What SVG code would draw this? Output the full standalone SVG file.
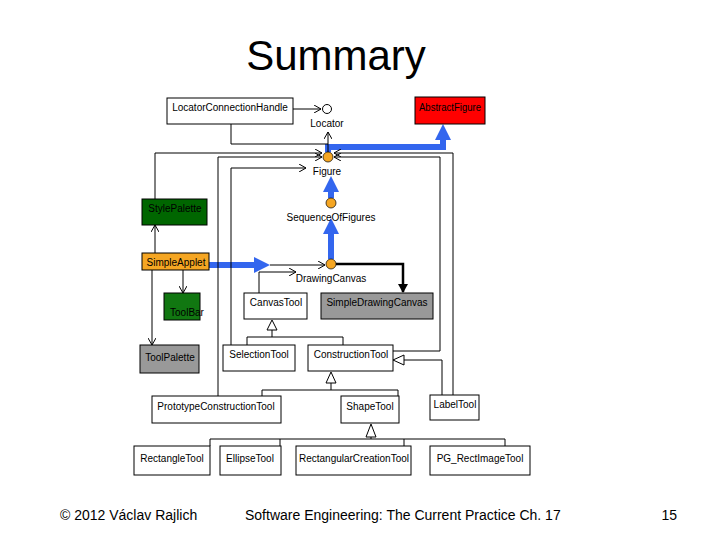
<svg xmlns="http://www.w3.org/2000/svg" width="720" height="540" viewBox="0 0 720 540">
<style>
text{font-family:"Liberation Sans",Arial,sans-serif;font-size:10px;fill:#000}
text.t{font-size:42px}
text.f{font-size:14px}
.b{stroke:#000;stroke-width:1}
.l{fill:none;stroke:#000;stroke-width:1}
.bl{fill:none;stroke:#3366ee;stroke-width:6}
.tri{fill:#fff;stroke:#000;stroke-width:1}
.c{fill:#f5a623;stroke:#000;stroke-width:0.7}
</style>
<defs>
<marker id="o" markerWidth="8" markerHeight="8" refX="7" refY="4" orient="auto" markerUnits="userSpaceOnUse"><path d="M0,0L7,4L0,8" fill="none" stroke="#000"/></marker>
<marker id="k" markerWidth="10" markerHeight="10" refX="8" refY="5" orient="auto" markerUnits="userSpaceOnUse"><path d="M0,0L9,5L0,10z" fill="#000"/></marker>
<marker id="bb" markerWidth="16" markerHeight="16" refX="8" refY="8" orient="auto" markerUnits="userSpaceOnUse"><path d="M0,0L16,8L0,16z" fill="#3366ee"/></marker>
</defs>
<rect width="720" height="540" fill="#fff"/>
<text class="t" x="336" y="70" text-anchor="middle">Summary</text>
<g id="connectors">
<path class="bl" d="M328,152V147H443V132" marker-end="url(#bb)"/>
<path class="bl" d="M331,198V184" marker-end="url(#bb)"/>
<path class="bl" d="M331,259V226" marker-end="url(#bb)"/>
<path class="bl" d="M209,265H262" marker-end="url(#bb)"/>
<path class="l" d="M293,109H321" marker-end="url(#o)"/>
<path class="l" d="M231,124V144H328V152"/>
<path class="l" d="M328,144V132" marker-end="url(#o)"/>
<path class="l" d="M155,199V153H322" marker-end="url(#o)"/>
<path class="l" d="M218,396V157H322" marker-end="url(#o)"/>
<path class="l" d="M393,351H440V157H334" marker-end="url(#o)"/>
<path class="l" d="M453,395V153H334" marker-end="url(#o)"/>
<path class="l" d="M231,345V168H306" marker-end="url(#o)"/>
<path class="l" d="M270,265H325" marker-end="url(#o)"/>
<path class="l" d="M259,293V272H296" marker-end="url(#o)"/>
<path d="M336,264H403V292" fill="none" stroke="#000" stroke-width="2.5" marker-end="url(#k)"/>
<path class="l" d="M155,253V225" marker-end="url(#o)"/>
<path class="l" d="M152,270V345" marker-end="url(#o)"/>
<path class="l" d="M183,270V293" marker-end="url(#o)"/>
<path class="l" d="M247,345V337H343V345M272,337V330"/>
<path class="tri" d="M272,320L267,330H277z"/>
<path class="l" d="M262,396V390H398V396M331,390V383"/>
<path class="tri" d="M331,372L326,383H336z"/>
<path class="l" d="M442,395V360H404"/>
<path class="tri" d="M393,360L404,355V365z"/>
<path class="l" d="M210,446V439H505V446M280,439V446M404,439V446"/>
<path class="tri" d="M371,424L366,437H376z"/>
<path class="l" d="M371,437V439"/>
</g>
<circle cx="327" cy="109" r="4.5" fill="#fff" stroke="#000"/>
<text x="327" y="127" text-anchor="middle">Locator</text>
<circle class="c" cx="328" cy="157" r="5"/>
<text x="327" y="175" text-anchor="middle">Figure</text>
<circle class="c" cx="331" cy="203" r="5"/>
<text x="331" y="221" text-anchor="middle">SequenceOfFigures</text>
<circle class="c" cx="331" cy="264" r="5"/>
<text x="331" y="282" text-anchor="middle">DrawingCanvas</text>
<g id="LocatorConnectionHandle"><rect class="b" x="167" y="98" width="126" height="26" fill="#fff"/><text x="230" y="111" text-anchor="middle">LocatorConnectionHandle</text></g>
<g id="AbstractFigure"><rect class="b" x="415" y="97" width="70" height="27" fill="#ff0000"/><text x="450" y="111" text-anchor="middle" fill="#800000" textLength="62" lengthAdjust="spacingAndGlyphs">AbstractFigure</text></g>
<g id="StylePalette"><rect class="b" x="142" y="199" width="65" height="26" fill="#006600"/><text x="175" y="212" text-anchor="middle">StylePalette</text></g>
<g id="SimpleApplet"><rect class="b" x="142" y="253" width="67" height="17" fill="#f5a623"/><text x="176" y="266" text-anchor="middle">SimpleApplet</text></g>
<g id="ToolBar"><rect class="b" x="164" y="293" width="36" height="27" fill="#117711"/><text x="187" y="316" text-anchor="middle">ToolBar</text></g>
<g id="ToolPalette"><rect class="b" x="140" y="345" width="59" height="28" fill="#999"/><text x="170" y="361" text-anchor="middle">ToolPalette</text></g>
<g id="CanvasTool"><rect class="b" x="244" y="293" width="63" height="26" fill="#fff"/><text x="276" y="306" text-anchor="middle">CanvasTool</text></g>
<g id="SimpleDrawingCanvas"><rect class="b" x="321" y="293" width="112" height="26" fill="#999"/><text x="377" y="306" text-anchor="middle">SimpleDrawingCanvas</text></g>
<g id="SelectionTool"><rect class="b" x="223" y="345" width="72" height="26" fill="#fff"/><text x="259" y="358" text-anchor="middle">SelectionTool</text></g>
<g id="ConstructionTool"><rect class="b" x="308" y="345" width="85" height="26" fill="#fff"/><text x="351" y="358" text-anchor="middle">ConstructionTool</text></g>
<g id="PrototypeConstructionTool"><rect class="b" x="152" y="396" width="129" height="27" fill="#fff"/><text x="216" y="410" text-anchor="middle">PrototypeConstructionTool</text></g>
<g id="ShapeTool"><rect class="b" x="341" y="396" width="58" height="27" fill="#fff"/><text x="370" y="410" text-anchor="middle">ShapeTool</text></g>
<g id="LabelTool"><rect class="b" x="430" y="395" width="49" height="25" fill="#fff"/><text x="455" y="408" text-anchor="middle">LabelTool</text></g>
<g id="RectangleTool"><rect class="b" x="134" y="446" width="76" height="29" fill="#fff"/><text x="172" y="462" text-anchor="middle">RectangleTool</text></g>
<g id="EllipseTool"><rect class="b" x="220" y="446" width="61" height="29" fill="#fff"/><text x="250" y="462" text-anchor="middle">EllipseTool</text></g>
<g id="RectangularCreationTool"><rect class="b" x="296" y="446" width="115" height="29" fill="#fff"/><text x="354" y="462" text-anchor="middle">RectangularCreationTool</text></g>
<g id="PG_RectImageTool"><rect class="b" x="430" y="446" width="100" height="29" fill="#fff"/><text x="480" y="462" text-anchor="middle">PG_RectImageTool</text></g>
<text class="f" x="60" y="520">© 2012 Václav Rajlich</text>
<text class="f" x="245" y="520">Software Engineering: The Current Practice   Ch. 17</text>
<text class="f" x="677" y="520" text-anchor="end">15</text>
</svg>
